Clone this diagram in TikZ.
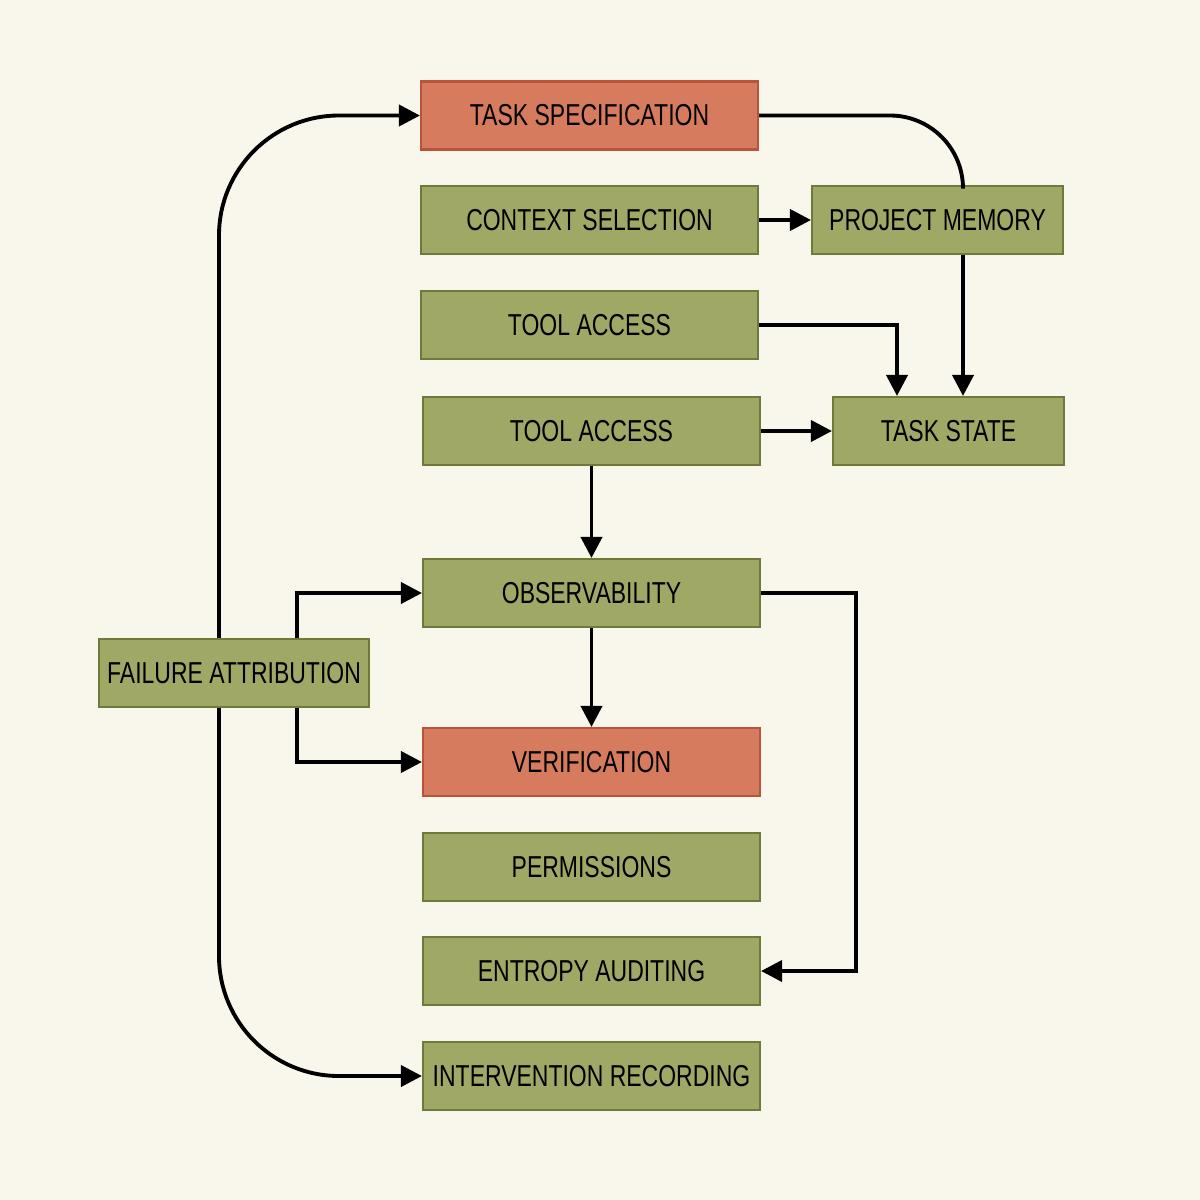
\documentclass[tikz,border=0pt]{standalone}
\usepackage{fontspec}
\setmainfont{Liberation Sans}
\usetikzlibrary{arrows.meta}
\definecolor{bg}{HTML}{F9F6EC}
\definecolor{gf}{HTML}{A0A865}
\definecolor{gd}{HTML}{6E7A3A}
\definecolor{rf}{HTML}{D67B5E}
\definecolor{rd}{HTML}{B9533C}
\newcommand{\lbl}[1]{\scalebox{0.76}[1]{\fontsize{8.6pt}{10pt}\selectfont #1}}
\begin{document}
\begin{tikzpicture}[x=0.01cm,y=-0.01cm,
  box/.style={draw=gd,fill=gf,line width=0.6pt,inner sep=0pt},
  rbox/.style={draw=rd,fill=rf,line width=0.6pt,inner sep=0pt},
  con/.style={line width=1.1pt,black},
  arr/.style={con,-{Triangle[length=6pt,width=6pt]}}]
\fill[bg] (0,0) rectangle (1200,1200);
\useasboundingbox (0,0) rectangle (1200,1200);
\newcommand{\bx}[6]{\node[#2,minimum width=#5*0.01cm,minimum height=68*0.01cm] (#1) at (#3,#4) {\lbl{#6}};}
\bx{ts}{rbox}{589.5}{115.5}{337}{TASK SPECIFICATION}
\bx{cs}{box}{589.5}{220}{337}{CONTEXT SELECTION}
\bx{pm}{box}{937.5}{220}{251}{PROJECT MEMORY}
\bx{ta}{box}{589.5}{325}{337}{TOOL ACCESS}
\bx{tb}{box}{591.5}{431}{337}{TOOL ACCESS}
\bx{st}{box}{948.5}{431}{231}{TASK STATE}
\bx{ob}{box}{591.5}{593}{337}{OBSERVABILITY}
\bx{fa}{box}{234}{673}{270}{FAILURE ATTRIBUTION}
\bx{ve}{rbox}{591.5}{762}{337}{VERIFICATION}
\bx{pe}{box}{591.5}{867}{337}{PERMISSIONS}
\bx{en}{box}{591.5}{971}{337}{ENTROPY AUDITING}
\bx{ir}{box}{591.5}{1076}{337}{INTERVENTION RECORDING}
\coordinate (x963) at (963,0);
\coordinate (x897) at (897,0);
\coordinate (x297) at (297,0);
\coordinate (x219) at (219,0);
\draw[con,rounded corners=73*0.01cm] (ts.east) -- (963,115.5) -- (pm.north -| x963);
\draw[arr] (pm.south -| x963) -- (st.north -| x963);
\draw[arr] (cs.east) -- (pm.west);
\draw[arr] (ta.east) -| (st.north -| x897);
\draw[arr] (tb.east) -- (st.west);
\draw[arr] (tb.south) -- (ob.north);
\draw[arr] (ob.south) -- (ve.north);
\draw[arr] (ob.east) -- (856,593) |- (en.east);
\draw[arr] (fa.north -| x297) |- (ob.west);
\draw[arr] (fa.south -| x297) |- (ve.west);
\draw[arr,rounded corners=120*0.01cm] (fa.north -| x219) |- (ts.west);
\draw[arr,rounded corners=120*0.01cm] (fa.south -| x219) |- (ir.west);
\end{tikzpicture}
\end{document}
